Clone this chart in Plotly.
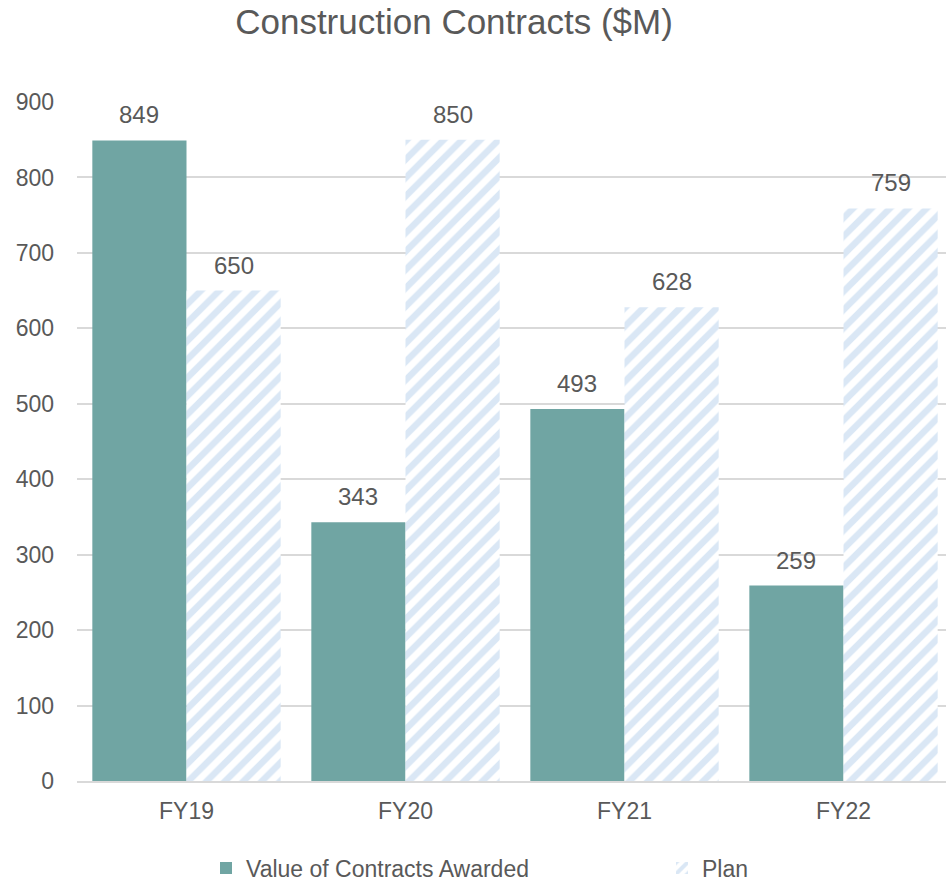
import plotly.graph_objects as go

categories = ["FY19", "FY20", "FY21", "FY22"]
awarded = [849, 343, 493, 259]
plan = [650, 850, 628, 759]
y_ticks = [0, 100, 200, 300, 400, 500, 600, 700, 800, 900]

FONT = "Liberation Sans, Arial, sans-serif"
TXT = "#595959"
W, H = 946, 881
ML, MR, MT, MB = 77, 0, 102, 100
BARGAP = 0.14
X_RANGE = [-0.5, 3.468]

fig = go.Figure()
fig.add_trace(go.Bar(
    x=categories, y=awarded, name="Value of Contracts Awarded",
    marker=dict(color="#70A5A3", line=dict(width=0)),
    legend="legend",
))
fig.add_trace(go.Bar(
    x=categories, y=plan, name="Plan",
    marker=dict(color="white", line=dict(width=0),
                pattern=dict(shape="/", fgcolor="#B5D0EB", bgcolor="white",
                             size=13, solidity=0.5)),
    legend="legend2",
))

# data labels above bars, offset to each bar of the group
plot_w = W - ML - MR
cat_px = plot_w / (X_RANGE[1] - X_RANGE[0])
bar_px = cat_px * (1 - BARGAP) / 2
for series, sign in ((awarded, -1), (plan, 1)):
    for c, v in zip(categories, series):
        fig.add_annotation(x=c, y=v, text=str(v), showarrow=False,
                           xshift=sign * bar_px / 2, yanchor="bottom", yshift=10,
                           font=dict(size=24, color=TXT, family=FONT))

fig.update_layout(
    width=W, height=H,
    margin=dict(l=ML, r=MR, t=MT, b=MB, autoexpand=False),
    paper_bgcolor="white", plot_bgcolor="white",
    barmode="group", bargap=BARGAP, bargroupgap=0,
    font=dict(family=FONT, color=TXT, size=23),
    title=dict(text="Construction Contracts ($M)", x=454 / W, xref="container",
               xanchor="center", y=1 - 22 / H, yref="container", yanchor="middle",
               font=dict(size=35, color=TXT, family=FONT)),
    showlegend=True,
    legend=dict(orientation="h", xref="container", yref="container",
                x=206 / W, xanchor="left", y=1 - 868 / H, yanchor="middle",
                itemwidth=30, font=dict(size=23, color=TXT, family=FONT)),
    legend2=dict(orientation="h", xref="container", yref="container",
                 x=662 / W, xanchor="left", y=1 - 868 / H, yanchor="middle",
                 itemwidth=30, font=dict(size=23, color=TXT, family=FONT)),
)
fig.update_yaxes(range=[0, 900], tickvals=y_ticks, showgrid=True, gridcolor="#D9D9D9",
                 gridwidth=1.5, zeroline=False, showline=False,
                 tickfont=dict(size=23, color=TXT), ticklabelstandoff=22)
fig.update_xaxes(range=X_RANGE, showline=True, linecolor="#D9D9D9", linewidth=2, ticks="",
                 tickfont=dict(size=23, color=TXT), ticklabelstandoff=8)

fig.write_html("out.html")
